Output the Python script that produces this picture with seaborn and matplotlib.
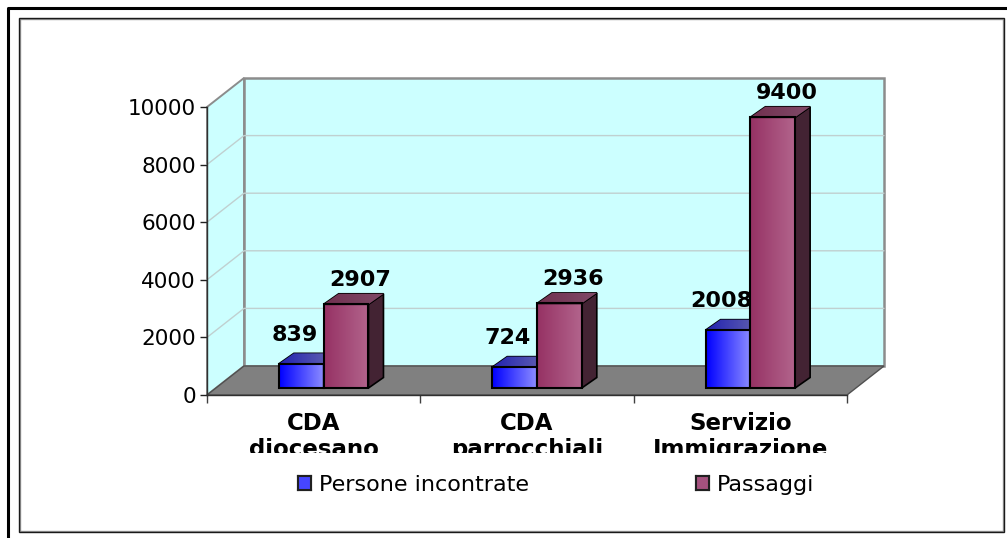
import numpy as np
import pandas as pd
import seaborn as sns
from matplotlib import pyplot as plt
from matplotlib.colors import LinearSegmentedColormap
from matplotlib.lines import Line2D
from matplotlib.patches import Patch, Polygon, Rectangle
from matplotlib.transforms import Bbox

W, H = 1007, 538
sedi = ['CDA\ndiocesano', 'CDA\nparrocchiali', 'Servizio\nImmigrazione']
persone = [839, 724, 2008]
passaggi = [2907, 2936, 9400]
serie = ['Persone incontrate', 'Passaggi']
y_ticks = [0, 2000, 4000, 6000, 8000, 10000]

colori = {'Persone incontrate': '#4646ff', 'Passaggi': '#a5527f'}
gradienti = [('#0000ff', '#8c8cff'), ('#963264', '#b2648c')]
lati = ['#1a1a80', '#432333']
tetti = [('#2222b0', '#6a6ab0'), ('#70304f', '#804a68')]


# === FUNC ===

def fx(px):
    return px / W


def fy(px):
    return 1 - px / H


def gradient(ax, extent, cols, zorder):
    cmap = LinearSegmentedColormap.from_list('g', cols)
    ax.imshow(np.linspace(0, 1, 64).reshape(1, -1), cmap=cmap, aspect='auto',
              extent=extent, zorder=zorder, interpolation='bilinear',
              clip_on=False)


# === CODE ===

df = pd.DataFrame({
    'sede': sedi * 2,
    'valore': persone + passaggi,
    'serie': [serie[0]] * 3 + [serie[1]] * 3})

sns.set_style('white')
plt.rcParams['font.family'] = ['DejaVu Sans']
plt.rcParams['text.color'] = 'black'
plt.rcParams['xtick.labelcolor'] = 'black'
plt.rcParams['ytick.labelcolor'] = 'black'

fig = plt.figure(figsize=(W / 100, H / 100), dpi=100)
ax = fig.add_axes([fx(207), fy(395), fx(847) - fx(207), fy(107) - fy(395)])
ax.patch.set_visible(False)

sns.barplot(data=df, x='sede', y='valore', hue='serie', palette=colori,
            width=0.42, gap=0, legend=False, ax=ax)

ux = 640 / 3
uy = 288 / 10000
wall_dx, wall_dy = 37 / ux, 29 / uy
bar_dx, bar_dy = 10 / ux, 7 / uy
side_dx, side_dy = 15 / ux, 10.5 / uy
x0, x1, y1 = -0.5, 2.5, 10000

# pareti e pavimento
ax.add_patch(Rectangle((x0 + wall_dx, wall_dy), x1 - x0, y1, fc='#ccffff',
                       ec='#8c8c8c', lw=1.8, zorder=0.2, clip_on=False))
ax.add_patch(Polygon([(x0, 0), (x0, y1), (x0 + wall_dx, y1 + wall_dy),
                      (x0 + wall_dx, wall_dy)], fc='#ccffff', ec='#8c8c8c',
                     lw=1.4, zorder=0.3, clip_on=False))
ax.add_patch(Polygon([(x0, 0), (x1, 0), (x1 + wall_dx, wall_dy),
                      (x0 + wall_dx, wall_dy)], fc='#808080', ec='#505050',
                     lw=1, zorder=0.6, clip_on=False))
for t in y_ticks[1:-1]:
    ax.plot([x0, x0 + wall_dx, x1 + wall_dx], [t, t + wall_dy, t + wall_dy],
            color='#c0d0d0', lw=1, zorder=0.5, clip_on=False)

# barre
for i, cont in enumerate(ax.containers):
    z = 2 + i
    for bar in cont:
        x, w, h = bar.get_x() + bar_dx, bar.get_width(), bar.get_height()
        bar.set_x(x)
        bar.set_y(bar_dy)
        bar.set_facecolor('none')
        bar.set_edgecolor('black')
        bar.set_linewidth(1.5)
        bar.set_zorder(z + 0.3)
        bar.set_clip_on(False)
        top = h + bar_dy
        gradient(ax, (x, x + w, bar_dy, top), gradienti[i], z)
        ax.add_patch(Polygon(
            [(x + w, bar_dy), (x + w + side_dx, bar_dy + side_dy),
             (x + w + side_dx, top + side_dy), (x + w, top)],
            fc=lati[i], ec='black', lw=1.2, zorder=z + 0.1, clip_on=False))
        roof = Polygon([(x, top), (x + w, top), (x + w + side_dx, top + side_dy),
                        (x + side_dx, top + side_dy)], fc=tetti[i][0],
                       ec='black', lw=1.2, zorder=z + 0.1, clip_on=False)
        ax.add_patch(roof)
        ax.imshow(np.linspace(0, 1, 64).reshape(1, -1),
                  cmap=LinearSegmentedColormap.from_list('t', tetti[i]),
                  aspect='auto', extent=(x, x + w + side_dx, top, top + side_dy),
                  zorder=z + 0.2, clip_path=roof)
        off, rise = ((-7, 29), (14, 24))[i]
        ax.annotate(f'{h:.0f}', (x + w / 2, top), xytext=(off * 0.72, rise * 0.72),
                    textcoords='offset points', ha='center', va='center',
                    fontsize=16, fontweight='bold', zorder=6,
                    annotation_clip=False)

ax.set_xlim(x0, x1)
ax.set_ylim(0, y1)
ax.set_xlabel('')
ax.set_ylabel('')
ax.set_yticks(y_ticks)
ax.set_xticks([0, 1, 2])
ax.set_xticks([-0.5, 0.5, 1.5, 2.5], minor=True)
ax.tick_params(axis='y', labelsize=15.5, length=5, width=1, left=True, pad=3,
               color='#202020', labelcolor='black')
ax.tick_params(axis='x', which='major', length=0, pad=12, labelcolor='black')
ax.tick_params(axis='x', which='minor', length=6, width=1, bottom=True, color='#404040')
sns.despine(ax=ax, top=True, right=True)
for side in ('left', 'bottom'):
    ax.spines[side].set_color('#303030')
    ax.spines[side].set_linewidth(1)
    ax.spines[side].set_zorder(1)

# le etichette sono tagliate in basso come nell'originale
clip = Bbox([[0, H - 453], [W, H]])
for lab in ax.get_xticklabels():
    lab.set_fontsize(16.5)
    lab.set_fontweight('bold')
    lab.set_linespacing(1.2)
    lab.set_clip_box(clip)
    lab.set_clip_on(True)

handles = [Patch(fc=colori[s], ec='#202020', lw=1.5) for s in serie]
leg = fig.legend(handles, serie, ncol=2, frameon=False, fontsize=16,
                 loc='center', bbox_to_anchor=(fx(556), fy(485)),
                 handlelength=0.585, handleheight=0.585, handletextpad=0.36,
                 columnspacing=7.5)

# sfumatura nei quadratini della legenda
fig.canvas.draw()
for patch, cols in zip(leg.get_patches(), gradienti):
    box = patch.get_window_extent().transformed(fig.transFigure.inverted())
    lax = fig.add_axes(box.bounds)
    gradient(lax, (0, 1, 0, 1), cols, 1)
    lax.set_xticks([])
    lax.set_yticks([])
    for sp in lax.spines.values():
        sp.set_color('#202020')
        sp.set_linewidth(1.5)

# cornici
fig.add_artist(Line2D([fx(7.5), fx(7.5), fx(W)], [0, fy(7.5), fy(7.5)],
                      color='black', lw=2.2))
fig.add_artist(Rectangle((fx(19.5), fy(530.5)), fx(983), 512 / H, fc='none',
                         ec='#999999', lw=1, transform=fig.transFigure))
fig.add_artist(Rectangle((fx(18.5), fy(531.5)), fx(985), 514 / H, fc='none',
                         ec='#1a1a1a', lw=1, transform=fig.transFigure))

plt.savefig('out.png', dpi=100)
